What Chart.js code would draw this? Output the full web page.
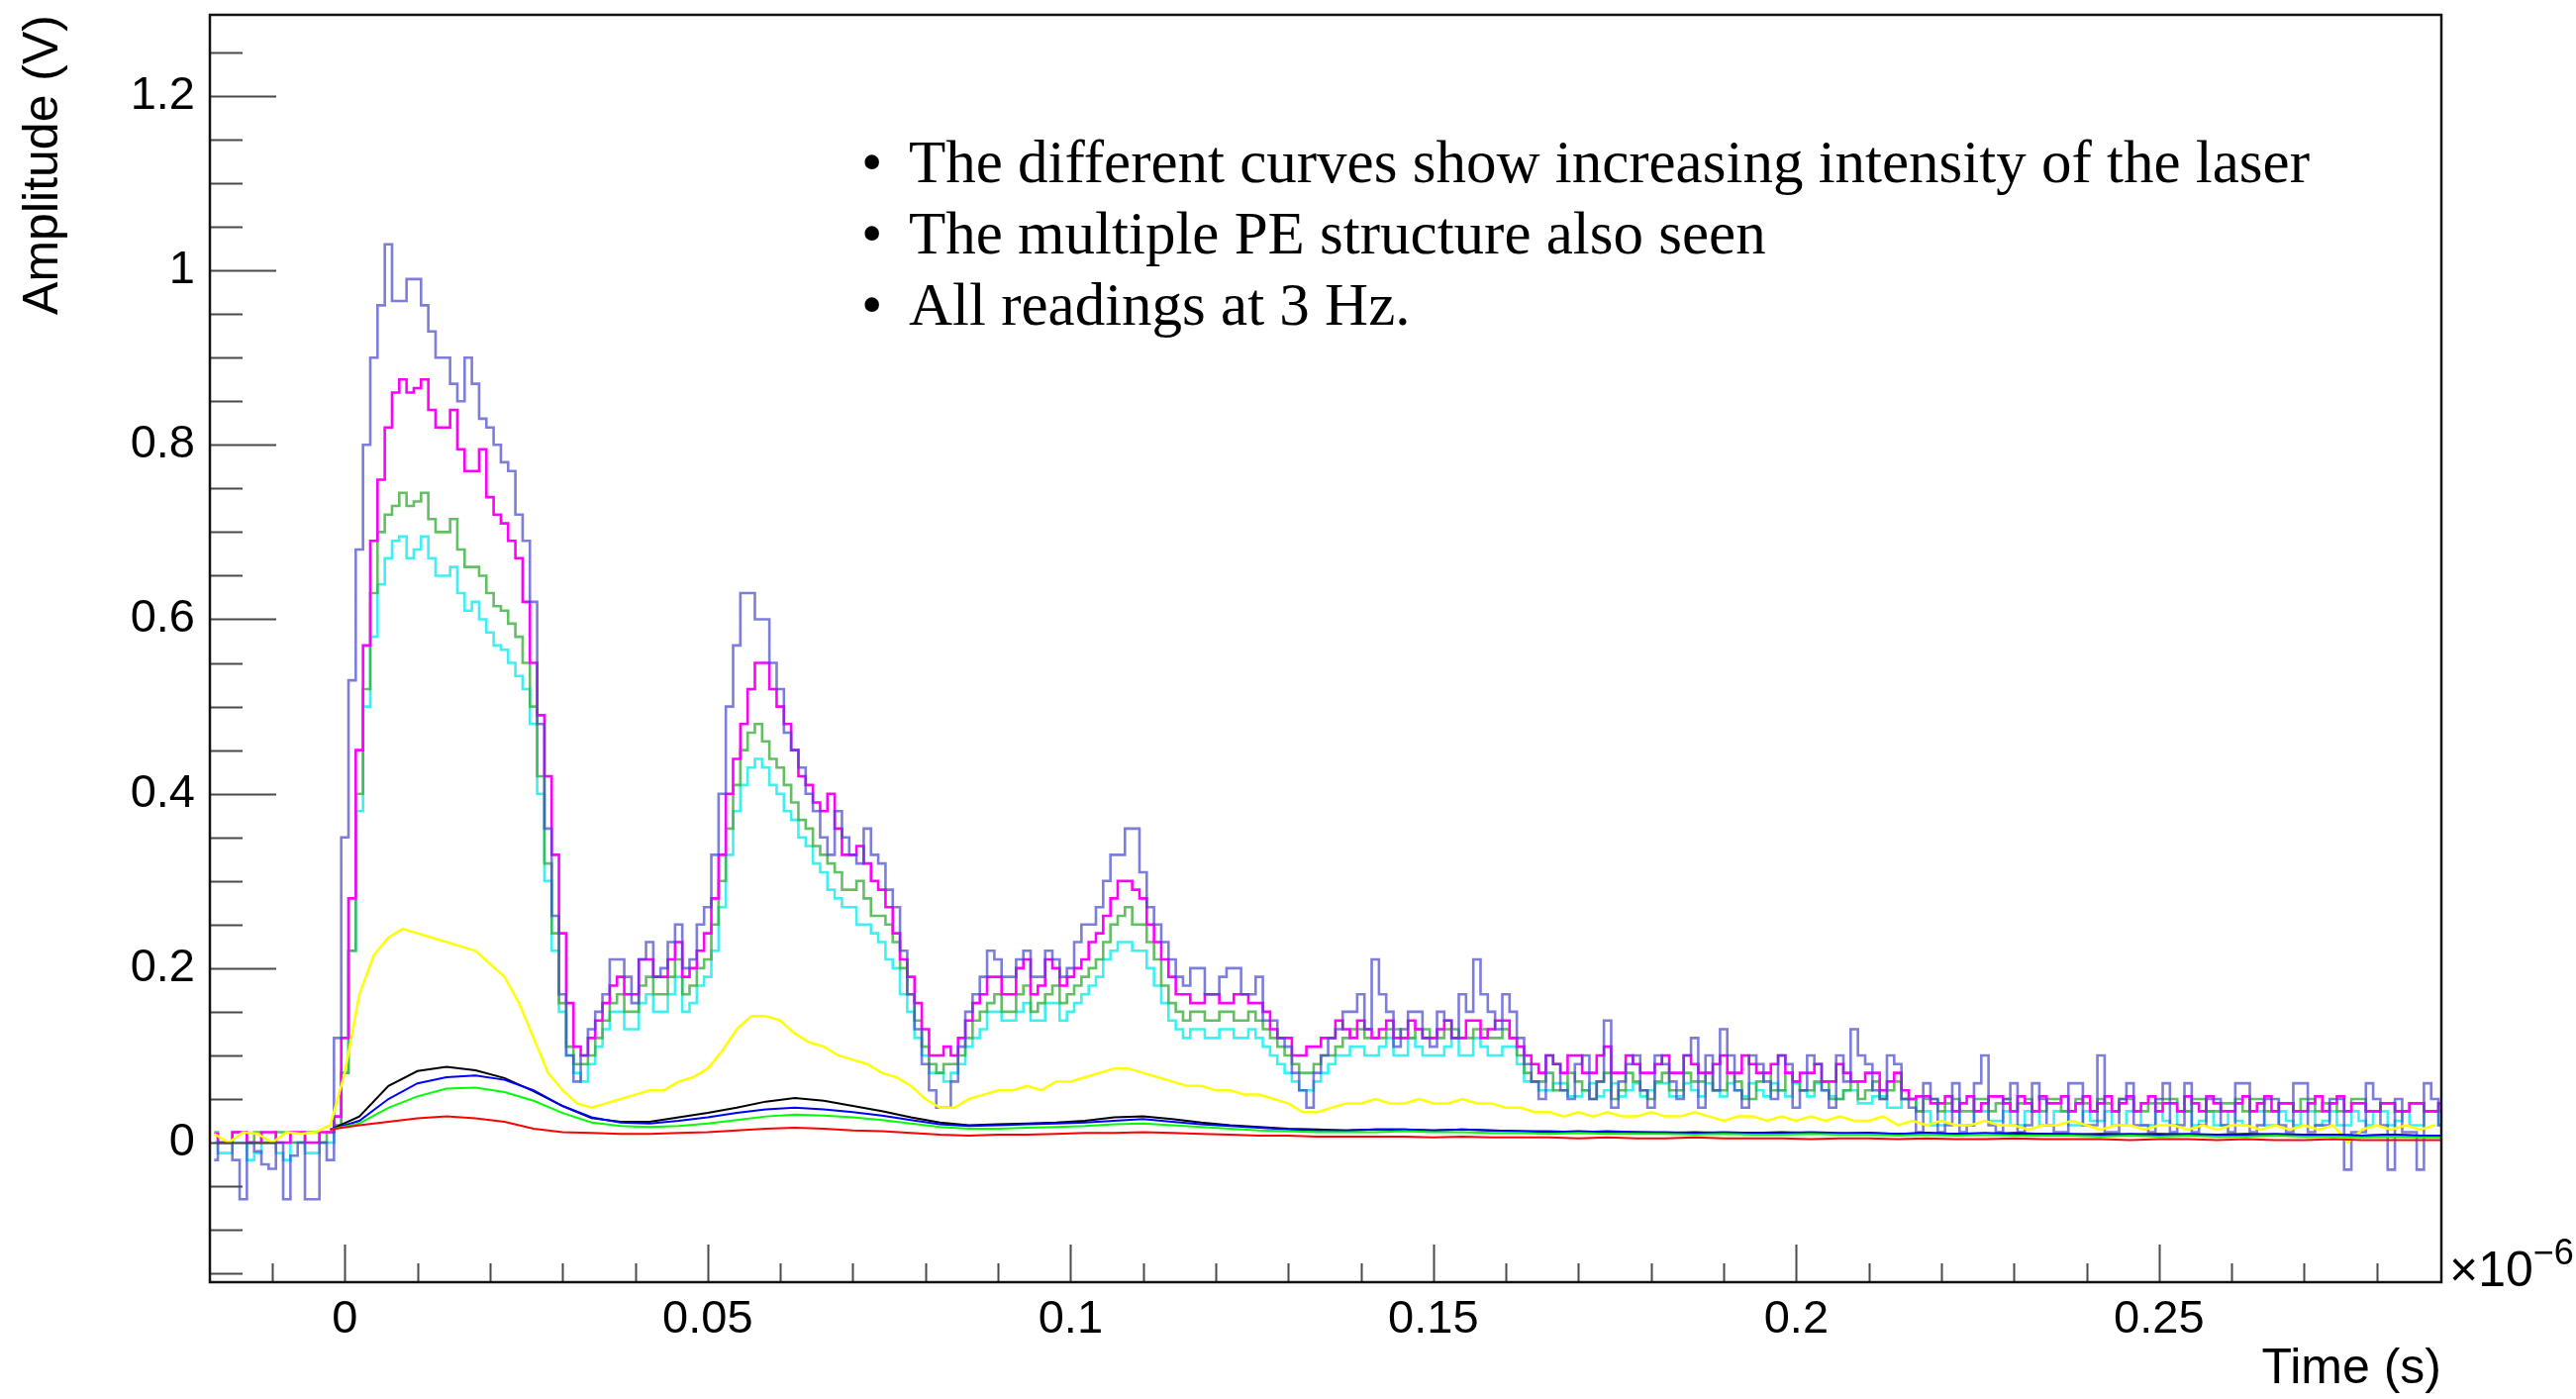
<!DOCTYPE html>
<html><head><meta charset="utf-8">
<script src="https://cdn.jsdelivr.net/npm/chart.js@4.4.1/dist/chart.umd.min.js"></script>
<style>
html,body{margin:0;padding:0;background:#fff;}
#wrap{position:relative;width:2602px;height:1413px;overflow:hidden;}
canvas{display:block;}
#notes{position:absolute;left:870px;top:128px;margin:0;padding:0;list-style:none;font-family:'Liberation Serif',serif;font-size:61px;line-height:72px;color:#000;white-space:nowrap;}
#notes li{position:relative;padding-left:48px;}
#notes li .b{position:absolute;left:0;top:0;}
#mult{position:absolute;left:2474px;top:1248px;font-family:'Liberation Sans',Arial,sans-serif;font-size:50px;color:#000;white-space:nowrap;}
#mult sup{font-size:36px;position:relative;top:-4px;}
</style></head>
<body>
<div id="wrap">
<canvas id="c" width="2602" height="1413"></canvas>
<ul id="notes">
<li><span class="b">•</span>The different curves show increasing intensity of the laser</li>
<li><span class="b">•</span>The multiple PE structure also seen</li>
<li><span class="b">•</span>All readings at 3 Hz.</li>
</ul>
<div id="mult">×10<sup>−6</sup></div>
</div>
<script>
// Sample times (units of 1e-6 s): phase A and phase B of the quantised waveforms
const times = [
-0.018,-0.016,-0.014,-0.012,-0.010,-0.008,-0.006,-0.004,-0.002,0.000,
0.002,0.004,0.006,0.008,0.010,0.012,0.014,0.016,0.018,0.020,
0.022,0.024,0.026,0.028,0.030,0.032,0.034,0.036,0.038,0.040,
0.042,0.044,0.046,0.048,0.050,0.052,0.054,0.056,0.058,0.060,
0.062,0.064,0.066,0.068,0.070,0.072,0.074,0.076,0.078,0.080,
0.082,0.084,0.086,0.088,0.090,0.092,0.094,0.096,0.098,0.100,
0.102,0.104,0.106,0.108,0.110,0.112,0.114,0.116,0.118,0.120,
0.122,0.124,0.126,0.128,0.130,0.132,0.134,0.136,0.138,0.140,
0.142,0.144,0.146,0.148,0.150,0.152,0.154,0.156,0.158,0.160,
0.162,0.164,0.166,0.168,0.170,0.172,0.174,0.176,0.178,0.180,
0.182,0.184,0.186,0.188,0.190,0.192,0.194,0.196,0.198,0.200,
0.202,0.204,0.206,0.208,0.210,0.212,0.214,0.216,0.218,0.220,
0.222,0.224,0.226,0.228,0.230,0.232,0.234,0.236,0.238,0.240,
0.242,0.244,0.246,0.248,0.250,0.252,0.254,0.256,0.258,0.260,
0.262,0.264,0.266,0.268,0.270,0.272,0.274,0.276,0.278,0.280,
0.282,0.284,0.286,0.288];

const timesHalf = [
-0.017,-0.015,-0.013,-0.011,-0.009,-0.007,-0.005,-0.003,-0.001,0.001,
0.003,0.005,0.007,0.009,0.011,0.013,0.015,0.017,0.019,0.021,
0.023,0.025,0.027,0.029,0.031,0.033,0.035,0.037,0.039,0.041,
0.043,0.045,0.047,0.049,0.051,0.053,0.055,0.057,0.059,0.061,
0.063,0.065,0.067,0.069,0.071,0.073,0.075,0.077,0.079,0.081,
0.083,0.085,0.087,0.089,0.091,0.093,0.095,0.097,0.099,0.101,
0.103,0.105,0.107,0.109,0.111,0.113,0.115,0.117,0.119,0.121,
0.123,0.125,0.127,0.129,0.131,0.133,0.135,0.137,0.139,0.141,
0.143,0.145,0.147,0.149,0.151,0.153,0.155,0.157,0.159,0.161,
0.163,0.165,0.167,0.169,0.171,0.173,0.175,0.177,0.179,0.181,
0.183,0.185,0.187,0.189,0.191,0.193,0.195,0.197,0.199,0.201,
0.203,0.205,0.207,0.209,0.211,0.213,0.215,0.217,0.219,0.221,
0.223,0.225,0.227,0.229,0.231,0.233,0.235,0.237,0.239,0.241,
0.243,0.245,0.247,0.249,0.251,0.253,0.255,0.257,0.259,0.261,
0.263,0.265,0.267,0.269,0.271,0.273,0.275,0.277,0.279,0.281,
0.283,0.285,0.287,0.289];

// Highest laser intensity (violet)
const violetA = [
-0.02,0.0,-0.065,-0.01,-0.03,-0.065,0.0,-0.065,-0.02,0.35,
0.68,0.90,1.03,0.965,0.99,0.93,0.90,0.85,0.87,0.82,
0.78,0.72,0.62,0.36,0.17,0.07,0.13,0.17,0.21,0.16,
0.23,0.20,0.25,0.21,0.27,0.40,0.57,0.63,0.60,0.52,
0.45,0.40,0.35,0.38,0.33,0.36,0.32,0.27,0.17,0.09,
0.04,0.07,0.15,0.19,0.21,0.19,0.22,0.19,0.21,0.20,
0.25,0.27,0.33,0.36,0.31,0.25,0.21,0.18,0.20,0.17,
0.20,0.17,0.19,0.14,0.11,0.06,0.08,0.12,0.15,0.17,
0.21,0.15,0.13,0.15,0.11,0.14,0.17,0.21,0.15,0.17,
0.12,0.07,0.10,0.06,0.09,0.05,0.14,0.07,0.10,0.04,
0.09,0.05,0.12,0.10,0.13,0.06,0.10,0.07,0.10,0.04,
0.10,0.06,0.10,0.13,0.09,0.05,0.09,0.04,0.068,0.012,
0.068,0.02,0.10,0.012,0.068,0.02,0.05,0.012,0.068,0.02,
0.10,0.012,0.068,0.02,0.05,0.012,0.068,0.02,0.05,0.012,
0.068,0.02,0.05,0.012,0.068,0.02,0.05,-0.031,0.012,0.05,
-0.031,0.012,-0.031,0.05];
const violetB = [
0.0,-0.02,0.0,-0.025,0.0,-0.015,-0.065,0.0,0.12,0.53,
0.80,0.96,0.965,0.99,0.96,0.90,0.87,0.90,0.83,0.80,
0.77,0.69,0.48,0.26,0.10,0.10,0.15,0.21,0.19,0.21,
0.19,0.23,0.20,0.25,0.33,0.50,0.63,0.60,0.55,0.47,
0.43,0.38,0.33,0.35,0.32,0.33,0.29,0.22,0.13,0.06,
0.04,0.11,0.17,0.22,0.19,0.21,0.19,0.22,0.19,0.23,
0.25,0.30,0.33,0.36,0.27,0.23,0.19,0.20,0.17,0.19,
0.20,0.17,0.14,0.12,0.08,0.04,0.10,0.13,0.15,0.13,
0.17,0.11,0.15,0.12,0.15,0.12,0.15,0.17,0.13,0.15,
0.09,0.05,0.09,0.05,0.10,0.07,0.04,0.09,0.06,0.10,
0.07,0.10,0.04,0.06,0.10,0.04,0.09,0.05,0.09,0.06,
0.09,0.04,0.07,0.10,0.06,0.10,0.05,0.012,0.05,0.02,
0.012,0.068,0.02,0.05,0.012,0.068,0.02,0.012,0.068,0.02,
0.012,0.05,0.02,0.012,0.068,0.02,0.012,0.05,0.02,0.068,
0.012,0.05,0.02,0.068,0.012,0.02,0.05,0.012,0.068,0.02,
0.05,0.012,0.068,0.02];

const magentaA = [
0.01,0.0,0.012,0.0,0.012,0.0,0.012,0.0,0.012,0.12,
0.45,0.69,0.82,0.875,0.865,0.84,0.82,0.795,0.77,0.74,
0.71,0.67,0.55,0.42,0.24,0.11,0.12,0.16,0.19,0.17,
0.21,0.19,0.23,0.20,0.24,0.33,0.44,0.52,0.55,0.50,
0.45,0.41,0.38,0.36,0.33,0.32,0.29,0.24,0.19,0.13,
0.10,0.10,0.14,0.17,0.19,0.17,0.21,0.18,0.20,0.19,
0.21,0.24,0.28,0.30,0.28,0.23,0.19,0.17,0.16,0.17,
0.16,0.17,0.16,0.13,0.12,0.10,0.11,0.12,0.13,0.14,
0.12,0.14,0.12,0.13,0.12,0.14,0.12,0.14,0.13,0.14,
0.11,0.09,0.10,0.08,0.10,0.08,0.11,0.08,0.09,0.08,
0.10,0.08,0.09,0.08,0.10,0.08,0.09,0.08,0.10,0.07,
0.08,0.07,0.09,0.07,0.08,0.06,0.08,0.05,0.053,0.045,
0.036,0.053,0.045,0.053,0.036,0.045,0.053,0.045,0.036,0.053,
0.045,0.036,0.053,0.045,0.036,0.045,0.053,0.036,0.045,0.036,
0.053,0.045,0.036,0.045,0.036,0.053,0.045,0.036,0.045,0.036,
0.045,0.036,0.045,0.036];
const magentaB = [
0.0,0.012,0.0,0.012,0.0,0.012,0.0,0.012,0.03,0.28,
0.57,0.76,0.86,0.86,0.875,0.82,0.84,0.77,0.795,0.72,
0.69,0.62,0.49,0.33,0.16,0.10,0.14,0.18,0.17,0.21,
0.19,0.21,0.19,0.22,0.28,0.40,0.48,0.55,0.52,0.48,
0.42,0.39,0.40,0.33,0.34,0.30,0.27,0.21,0.16,0.10,
0.11,0.12,0.16,0.19,0.17,0.20,0.17,0.21,0.18,0.20,
0.23,0.26,0.30,0.29,0.25,0.21,0.17,0.16,0.17,0.16,
0.17,0.16,0.15,0.12,0.10,0.11,0.12,0.14,0.12,0.13,
0.13,0.12,0.14,0.12,0.13,0.12,0.14,0.12,0.14,0.12,
0.10,0.08,0.09,0.10,0.08,0.10,0.08,0.10,0.08,0.09,
0.08,0.10,0.08,0.09,0.08,0.10,0.08,0.09,0.08,0.08,
0.09,0.07,0.08,0.07,0.08,0.07,0.06,0.053,0.045,0.053,
0.045,0.036,0.053,0.045,0.053,0.036,0.045,0.053,0.045,0.036,
0.053,0.045,0.036,0.053,0.045,0.036,0.045,0.053,0.036,0.045,
0.036,0.053,0.045,0.036,0.045,0.036,0.053,0.045,0.036,0.045,
0.036,0.045,0.036,0.045];

const greenMidA = [
0.012,0.0,0.012,0.012,0.0,0.012,0.0,0.012,0.012,0.08,
0.40,0.63,0.72,0.745,0.735,0.715,0.70,0.68,0.66,0.63,
0.61,0.58,0.50,0.32,0.16,0.09,0.10,0.14,0.17,0.15,
0.19,0.17,0.21,0.18,0.21,0.30,0.41,0.47,0.46,0.43,
0.39,0.36,0.33,0.31,0.29,0.28,0.26,0.23,0.17,0.11,
0.08,0.09,0.12,0.15,0.17,0.15,0.18,0.16,0.18,0.17,
0.19,0.21,0.25,0.27,0.25,0.21,0.16,0.14,0.15,0.14,
0.15,0.14,0.14,0.12,0.10,0.08,0.09,0.10,0.12,0.13,
0.12,0.13,0.12,0.13,0.12,0.13,0.12,0.13,0.12,0.13,
0.10,0.07,0.08,0.06,0.07,0.05,0.08,0.06,0.07,0.05,
0.08,0.06,0.07,0.08,0.06,0.07,0.05,0.08,0.06,0.07,
0.06,0.07,0.05,0.07,0.06,0.05,0.07,0.05,0.05,0.036,
0.05,0.036,0.05,0.045,0.036,0.05,0.036,0.05,0.036,0.045,
0.05,0.036,0.05,0.036,0.045,0.05,0.036,0.05,0.036,0.045,
0.036,0.05,0.036,0.045,0.05,0.036,0.045,0.036,0.05,0.036,
0.045,0.036,0.045,0.036];
const greenMidB = [
0.0,0.012,0.0,0.0,0.012,0.0,0.012,0.0,0.02,0.22,
0.52,0.70,0.73,0.73,0.745,0.70,0.715,0.66,0.65,0.615,
0.595,0.55,0.42,0.24,0.11,0.09,0.12,0.16,0.15,0.18,
0.17,0.19,0.17,0.20,0.25,0.36,0.45,0.48,0.44,0.41,
0.37,0.34,0.32,0.29,0.30,0.26,0.25,0.20,0.14,0.09,
0.09,0.10,0.14,0.16,0.15,0.17,0.15,0.17,0.16,0.18,
0.20,0.23,0.26,0.25,0.23,0.18,0.15,0.15,0.14,0.15,
0.14,0.15,0.13,0.11,0.09,0.08,0.10,0.11,0.13,0.12,
0.12,0.13,0.12,0.13,0.12,0.13,0.12,0.13,0.12,0.12,
0.08,0.07,0.06,0.08,0.06,0.07,0.05,0.08,0.06,0.07,
0.06,0.08,0.07,0.06,0.08,0.05,0.07,0.06,0.08,0.06,
0.07,0.05,0.06,0.05,0.07,0.06,0.05,0.036,0.05,0.045,
0.036,0.05,0.036,0.05,0.045,0.036,0.05,0.036,0.05,0.036,
0.045,0.05,0.036,0.045,0.05,0.036,0.05,0.036,0.045,0.05,
0.05,0.036,0.045,0.036,0.05,0.045,0.036,0.05,0.036,0.045,
0.036,0.045,0.036,0.045];

const cyanA = [
0.0,-0.012,0.0,-0.012,0.0,-0.02,0.0,-0.012,0.0,0.08,
0.38,0.58,0.67,0.695,0.68,0.67,0.65,0.63,0.62,0.585,
0.565,0.535,0.48,0.30,0.15,0.08,0.09,0.13,0.15,0.13,
0.17,0.15,0.19,0.16,0.19,0.27,0.38,0.43,0.43,0.40,
0.37,0.34,0.31,0.28,0.27,0.25,0.23,0.20,0.15,0.10,
0.08,0.08,0.11,0.13,0.15,0.14,0.16,0.14,0.16,0.15,
0.17,0.19,0.22,0.23,0.22,0.18,0.14,0.12,0.13,0.12,
0.13,0.12,0.12,0.10,0.08,0.06,0.07,0.09,0.10,0.11,
0.10,0.12,0.10,0.11,0.10,0.11,0.10,0.12,0.10,0.11,
0.09,0.07,0.06,0.068,0.053,0.068,0.06,0.053,0.068,0.06,
0.068,0.053,0.06,0.068,0.053,0.06,0.068,0.053,0.06,0.068,
0.053,0.06,0.05,0.06,0.045,0.053,0.04,0.05,0.036,0.02,
0.036,0.02,0.036,0.025,0.02,0.036,0.02,0.036,0.02,0.036,
0.025,0.02,0.036,0.02,0.036,0.02,0.036,0.025,0.02,0.036,
0.02,0.036,0.02,0.025,0.036,0.02,0.036,0.02,0.025,0.036,
0.02,0.036,0.02,0.036];
const cyanB = [
-0.012,0.0,-0.02,0.0,-0.012,0.0,-0.012,0.0,0.02,0.22,
0.50,0.64,0.69,0.67,0.695,0.65,0.66,0.61,0.60,0.57,
0.55,0.52,0.40,0.22,0.10,0.07,0.11,0.15,0.13,0.16,
0.15,0.17,0.15,0.18,0.22,0.33,0.41,0.44,0.41,0.38,
0.35,0.32,0.29,0.27,0.25,0.24,0.21,0.17,0.12,0.08,
0.07,0.09,0.12,0.15,0.14,0.15,0.14,0.16,0.14,0.16,
0.18,0.21,0.23,0.22,0.20,0.16,0.13,0.13,0.12,0.13,
0.12,0.13,0.11,0.09,0.07,0.06,0.08,0.10,0.11,0.10,
0.11,0.10,0.12,0.10,0.10,0.12,0.10,0.11,0.10,0.11,
0.07,0.06,0.068,0.053,0.06,0.053,0.068,0.06,0.053,0.068,
0.053,0.068,0.053,0.06,0.068,0.053,0.06,0.068,0.053,0.06,
0.068,0.053,0.06,0.045,0.053,0.04,0.05,0.036,0.02,0.036,
0.02,0.036,0.025,0.036,0.02,0.036,0.02,0.036,0.02,0.025,
0.036,0.02,0.036,0.02,0.025,0.036,0.02,0.036,0.02,0.025,
0.036,0.02,0.036,0.02,0.036,0.025,0.02,0.036,0.02,0.036,
0.025,0.02,0.036,0.02];

const yellow = [
0.01,0.0,0.012,0.01,0.0,0.012,0.01,0.012,0.02,0.08,
0.17,0.215,0.235,0.245,0.24,0.235,0.23,0.225,0.22,0.205,
0.19,0.16,0.12,0.08,0.06,0.045,0.04,0.045,0.05,0.055,
0.06,0.06,0.07,0.075,0.085,0.105,0.13,0.145,0.145,0.14,
0.125,0.115,0.11,0.10,0.095,0.09,0.08,0.075,0.065,0.05,
0.04,0.04,0.05,0.055,0.06,0.06,0.065,0.06,0.07,0.07,
0.075,0.08,0.085,0.085,0.08,0.075,0.07,0.065,0.065,0.06,
0.06,0.055,0.055,0.05,0.045,0.035,0.035,0.04,0.045,0.045,
0.05,0.045,0.045,0.05,0.045,0.045,0.05,0.045,0.045,0.04,
0.04,0.035,0.035,0.03,0.035,0.03,0.035,0.03,0.03,0.035,
0.03,0.03,0.035,0.03,0.025,0.03,0.03,0.025,0.03,0.025,
0.03,0.025,0.03,0.025,0.025,0.03,0.02,0.025,0.02,0.025,
0.02,0.02,0.025,0.02,0.02,0.015,0.02,0.02,0.025,0.02,
0.015,0.02,0.02,0.015,0.02,0.02,0.015,0.02,0.015,0.02,
0.02,0.015,0.02,0.015,0.02,0.015,0.02,0.0,0.015,0.02,
0.015,0.02,0.015,0.02];

// Time grid for the smooth (averaged) low-intensity waveforms
const timesSmooth = [
-0.002,0.002,0.006,0.010,0.014,0.018,0.022,0.026,0.030,0.034,
0.038,0.042,0.046,0.050,0.054,0.058,0.062,0.066,0.070,0.074,
0.078,0.082,0.086,0.090,0.094,0.098,0.102,0.106,0.110,0.114,
0.118,0.122,0.126,0.130,0.134,0.138,0.142,0.146,0.150,0.154,
0.158,0.162,0.166,0.170,0.174,0.178,0.182,0.186,0.190,0.194,
0.198,0.202,0.206,0.210,0.214,0.218,0.222,0.226,0.230,0.234,
0.238,0.242,0.246,0.250,0.254,0.258,0.262,0.266,0.270,0.274,
0.278,0.282,0.286,0.290];

const black = [
0.015,0.03,0.065,0.082,0.087,0.083,0.074,0.059,0.042,0.028,
0.024,0.024,0.029,0.034,0.04,0.047,0.051,0.048,0.042,0.036,
0.029,0.023,0.02,0.021,0.022,0.023,0.025,0.029,0.03,0.027,
0.023,0.02,0.018,0.016,0.015,0.014,0.015,0.015,0.014,0.015,
0.014,0.013,0.012,0.013,0.012,0.012,0.011,0.012,0.011,0.011,
0.012,0.011,0.01,0.011,0.01,0.011,0.01,0.01,0.011,0.01,
0.009,0.01,0.009,0.01,0.009,0.009,0.01,0.009,0.008,0.009,
0.008,0.009,0.008,0.008];

const blue = [
0.015,0.025,0.05,0.068,0.075,0.077,0.072,0.06,0.042,0.029,
0.023,0.022,0.025,0.029,0.034,0.038,0.04,0.038,0.035,0.031,
0.026,0.021,0.019,0.02,0.021,0.022,0.023,0.025,0.027,0.024,
0.021,0.019,0.017,0.015,0.014,0.014,0.015,0.015,0.014,0.015,
0.014,0.013,0.013,0.012,0.013,0.012,0.012,0.011,0.012,0.011,
0.011,0.012,0.011,0.011,0.01,0.011,0.01,0.011,0.01,0.01,
0.01,0.009,0.01,0.009,0.01,0.009,0.009,0.01,0.009,0.009,
0.008,0.009,0.008,0.008];

const greenBright = [
0.015,0.022,0.04,0.053,0.062,0.063,0.058,0.048,0.034,0.023,
0.019,0.018,0.019,0.022,0.026,0.03,0.032,0.031,0.029,0.026,
0.022,0.018,0.016,0.016,0.017,0.018,0.019,0.021,0.022,0.02,
0.018,0.016,0.014,0.013,0.012,0.012,0.012,0.013,0.012,0.012,
0.011,0.011,0.01,0.011,0.01,0.01,0.01,0.009,0.01,0.009,
0.009,0.01,0.009,0.009,0.008,0.009,0.008,0.009,0.008,0.008,
0.008,0.007,0.008,0.007,0.008,0.007,0.007,0.008,0.007,0.007,
0.006,0.007,0.006,0.006];

const red = [
0.015,0.02,0.024,0.028,0.03,0.028,0.024,0.016,0.012,0.011,
0.01,0.01,0.011,0.012,0.014,0.016,0.017,0.016,0.014,0.013,
0.011,0.009,0.008,0.009,0.009,0.01,0.011,0.011,0.012,0.011,
0.01,0.009,0.008,0.008,0.007,0.007,0.007,0.007,0.006,0.007,
0.006,0.006,0.006,0.005,0.006,0.005,0.005,0.006,0.005,0.005,
0.005,0.004,0.005,0.005,0.004,0.005,0.004,0.004,0.005,0.004,
0.004,0.004,0.003,0.004,0.004,0.003,0.004,0.003,0.003,0.004,
0.003,0.003,0.003,0.003];

const xTickLabels = [0, 0.05, 0.1, 0.15, 0.2, 0.25];
const yTickLabels = [0, 0.2, 0.4, 0.6, 0.8, 1, 1.2];

const FONT = "'Liberation Sans', Arial, Helvetica, sans-serif";

function pts(xs, ys) { return xs.map((x, i) => ({ x: x, y: ys[i] })); }
function pts2(xa, ya, xb, yb) {
  const out = [];
  for (let i = 0; i < xa.length; i++) {
    out.push({ x: xa[i], y: ya[i] });
    out.push({ x: xb[i], y: yb[i] });
  }
  return out;
}
function ds(data, color, stepped, width) {
  return { data: data, borderColor: color, backgroundColor: color, borderWidth: width,
           stepped: stepped, pointRadius: 0, fill: false, tension: 0 };
}

// first dataset is drawn on top
const datasets = [
  ds(pts(timesSmooth, red), '#ff0000', false, 2),
  ds(pts(timesSmooth, greenBright), '#00ff00', false, 2),
  ds(pts(timesSmooth, blue), '#0000ff', false, 2),
  ds(pts(timesSmooth, black), '#000000', false, 2),
  ds(pts(times, yellow), '#ffff00', false, 2.5),
  ds(pts2(times, violetA, timesHalf, violetB), 'rgba(70,70,205,0.7)', 'middle', 2.6),
  ds(pts2(times, magentaA, timesHalf, magentaB), '#ff00ff', 'middle', 2.6),
  ds(pts2(times, greenMidA, timesHalf, greenMidB), 'rgba(60,175,60,0.8)', 'middle', 2.6),
  ds(pts2(times, cyanA, timesHalf, cyanB), 'rgba(40,240,240,0.9)', 'middle', 2.6)
];

function fmt(v) { return String(Number(v.toFixed(3))); }

const frameTicks = {
  id: 'frameTicks',
  afterDatasetsDraw(chart) {
    const { ctx, chartArea: a, scales } = chart;
    const x = scales.x, y = scales.y;
    ctx.save();
    ctx.strokeStyle = '#4a4a4a';
    ctx.lineWidth = 2;
    ctx.beginPath();
    for (let k = -3; k <= 25; k++) {
      const py = Math.round(y.getPixelForValue(k * 0.05)) + 0.5;
      if (py < a.top || py > a.bottom) continue;
      const len = (k % 4 === 0) ? 67 : 33;
      ctx.moveTo(a.left, py); ctx.lineTo(a.left + len, py);
    }
    for (let k = -1; k <= 28; k++) {
      const px = Math.round(x.getPixelForValue(k * 0.01)) + 0.5;
      if (px < a.left || px > a.right) continue;
      const len = (k % 5 === 0) ? 38 : 19;
      ctx.moveTo(px, a.bottom); ctx.lineTo(px, a.bottom - len);
    }
    ctx.stroke();
    ctx.strokeStyle = '#111';
    ctx.lineWidth = 2.5;
    ctx.strokeRect(a.left, a.top, a.right - a.left, a.bottom - a.top);
    ctx.restore();
  }
};

new Chart(document.getElementById('c'), {
  type: 'line',
  data: { datasets: datasets },
  plugins: [frameTicks],
  options: {
    responsive: false, animation: false, devicePixelRatio: 1,
    layout: { padding: { top: 15, right: 136, bottom: 0, left: 0 } },
    plugins: { legend: { display: false }, tooltip: { enabled: false } },
    scales: {
      x: {
        type: 'linear', min: -0.0186, max: 0.2889,
        afterBuildTicks: s => { s.ticks = xTickLabels.map(v => ({ value: v })); },
        afterFit: s => { s.height = 118; s.paddingLeft = 0; s.paddingRight = 0; },
        grid: { display: false, drawTicks: false, tickLength: 0 },
        border: { display: false },
        ticks: { autoSkip: false, maxRotation: 0, padding: 10, color: '#000',
                 font: { family: FONT, size: 47 }, callback: v => fmt(v) },
        title: { display: true, text: 'Time (s)', align: 'end', color: '#000',
                 font: { family: FONT, size: 50 }, padding: { top: 0, bottom: 0 } }
      },
      y: {
        type: 'linear', min: -0.16, max: 1.293,
        afterBuildTicks: s => { s.ticks = yTickLabels.map(v => ({ value: v })); },
        afterFit: s => { s.width = 212; s.paddingTop = 0; s.paddingBottom = 0; },
        grid: { display: false, drawTicks: false, tickLength: 0 },
        border: { display: false },
        ticks: { autoSkip: false, padding: 15, color: '#000',
                 font: { family: FONT, size: 47 }, callback: v => fmt(v) },
        title: { display: true, text: 'Amplitude (V)', align: 'end', color: '#000',
                 font: { family: FONT, size: 50 }, padding: { top: 14, bottom: 0 } }
      }
    }
  }
});
</script>
</body></html>
